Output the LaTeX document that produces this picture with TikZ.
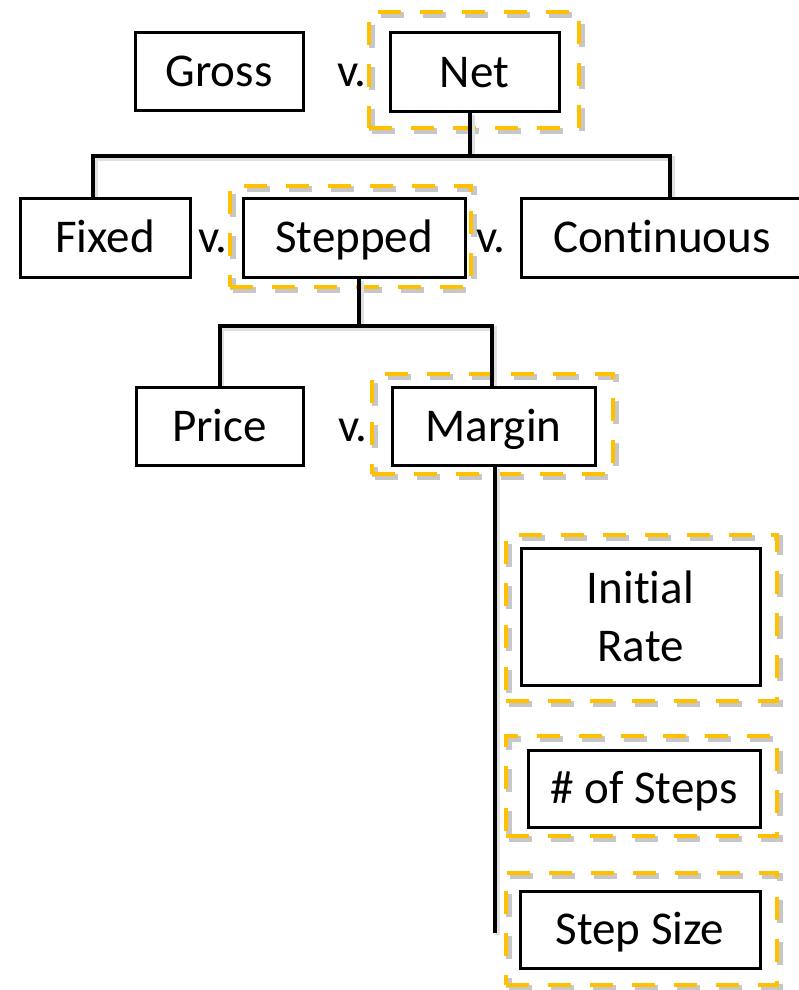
\documentclass[tikz,border=0pt]{standalone}
\usepackage{fontspec}
\setmainfont{Carlito}[Ligatures=NoCommon]
\pgfdeclarelayer{bg}
\pgfdeclarelayer{mid}
\pgfsetlayers{bg,mid,main}
\begin{document}
\begin{tikzpicture}[x=1pt,y=-1pt,
  box/.style={draw=black, line width=3pt, fill=white, inner sep=0pt, text height=30pt, text depth=0pt,
    font=\fontsize{47}{58}\selectfont, align=center},
  vtext/.style={inner sep=0pt, text height=30pt, text depth=0pt, font=\fontsize{47}{58}\selectfont},
  dbox/.style={draw=gold, line width=4.5pt, dash pattern=on 23pt off 19pt, inner sep=0pt,
    preaction={draw=black!22, line width=6pt, dash pattern=on 23pt off 19pt,
      transform canvas={shift={(3pt,-3pt)}}}},
  conn/.style={draw=black, line width=4pt, line join=miter,
    preaction={draw=black!12, line width=5pt, transform canvas={shift={(2pt,-2pt)}}}}
]
\definecolor{gold}{HTML}{FFC000}
\useasboundingbox (0,0) rectangle (799,990);
\clip (0,0) rectangle (799,990);
\begin{pgfonlayer}{bg}
\fill[white] (0,0) rectangle (799,990);
\end{pgfonlayer}

% boxes
\node[box, minimum width=168pt, minimum height=77pt] (gross) at (219,71.5) {Gross};
\node[box, minimum width=169pt, minimum height=78pt] (net) at (474.5,72) {Net};
\node[box, minimum width=170pt, minimum height=79pt] (fixed) at (105,237.5) {Fixed};
\node[box, minimum width=222pt, minimum height=79pt] (stepped) at (354,237.5) {Stepped};
\node[box, minimum width=282pt, minimum height=79pt] (cont) at (662,237.5) {Continuous};
\node[box, minimum width=167pt, minimum height=78pt] (price) at (219.5,426) {Price};
\node[box, minimum width=203pt, minimum height=78pt] (margin) at (493.5,426) {Margin};
\node[box, minimum width=239pt, minimum height=137pt, text height=88pt, text depth=0pt] (initial) at (640.5,617) {Initial\\Rate};
\node[box, minimum width=232pt, minimum height=77pt] (steps) at (644,788.5) {\# of Steps};
\node[box, minimum width=240pt, minimum height=77pt] (size) at (640,929.5) {Step Size};

% "v." labels
\node[vtext] (v1) at (352,71.5) {v.};
\node[vtext] (v2) at (213,237.5) {v.};
\node[vtext] (v3) at (491,237.5) {v.};
\node[vtext] (v4) at (353,426) {v.};

% dashed highlight frames
\begin{pgfonlayer}{bg}
\node[dbox, minimum width=210pt, minimum height=116pt] (netd) at (474,70) {};
\node[dbox, minimum width=241pt, minimum height=101pt] (stepd) at (350.5,236.5) {};
\node[dbox, minimum width=241pt, minimum height=100pt] (margd) at (492.5,424) {};
\node[dbox, minimum width=271pt, minimum height=166pt] (initd) at (641.5,618) {};
\node[dbox, minimum width=271pt, minimum height=100pt] (stepsd) at (641.5,786) {};
\node[dbox, minimum width=271pt, minimum height=112pt] (sized) at (641.5,929) {};
\end{pgfonlayer}

% connectors
\begin{pgfonlayer}{mid}
\coordinate (h1) at (470,156);
\coordinate (h2) at (359,326);
\coordinate (mend) at (495,933);
\draw[conn] ([xshift=-4.5pt]net.south) -- (h1);
\draw[conn] ([xshift=-12pt]fixed.north) |- (h1) -| ([xshift=8pt]cont.north);
\draw[conn] ([xshift=5pt]stepped.south) -- (h2);
\draw[conn] (price.north) |- (h2) -| ([xshift=-1.5pt]margin.north);
\draw[conn] ([xshift=1.5pt]margin.south) -- (mend);
\end{pgfonlayer}
\end{tikzpicture}
\end{document}
